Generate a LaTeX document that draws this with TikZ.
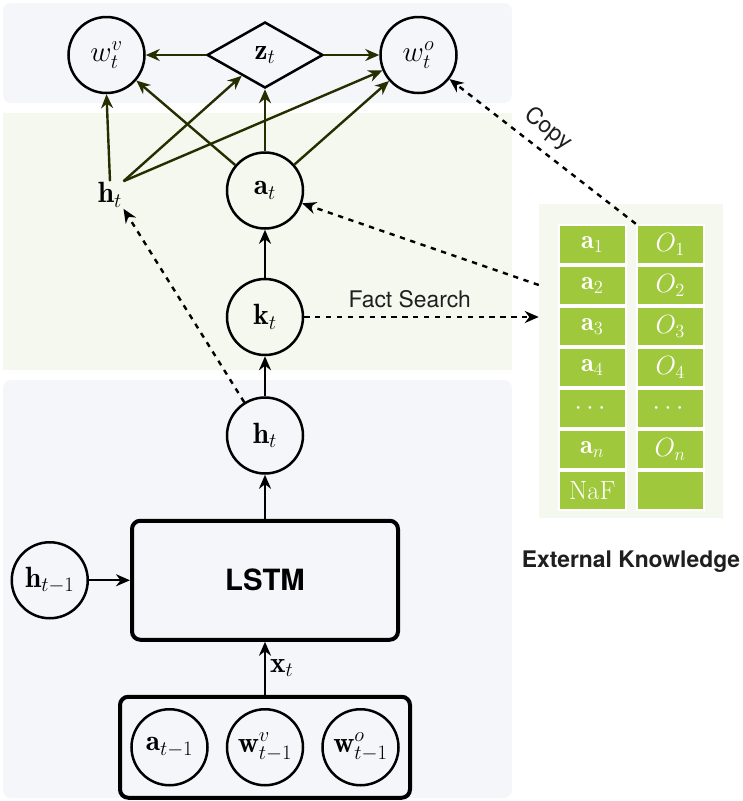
\RequirePackage{fix-cm}
\documentclass[tikz,border=0pt]{standalone}
\usepackage{amsmath}
\usepackage{fontspec}
\newfontfamily\heros{TeX Gyre Heros}
\usetikzlibrary{shapes.geometric, arrows.meta, positioning, calc}

\definecolor{panelgrey}{RGB}{245,246,249}
\definecolor{panelgreen}{RGB}{245,248,239}
\definecolor{cellgreen}{RGB}{160,200,60}
\definecolor{darkolive}{RGB}{38,46,0}

\begin{document}
\begin{tikzpicture}[
  circ/.style={circle, draw, line width=0.075cm, minimum size=2.28cm, inner sep=0pt, font=\fontsize{25}{29}\selectfont},
  diam/.style={diamond, draw, line width=0.075cm, minimum width=3.48cm, minimum height=1.98cm, inner sep=0pt, font=\fontsize{25}{29}\selectfont},
  lstmbox/.style={rectangle, draw, rounded corners=0.25cm, line width=0.12cm, minimum width=7.98cm, minimum height=3.57cm, font=\heros\bfseries\fontsize{25}{29}\selectfont},
  inbox/.style={rectangle, draw, rounded corners=0.25cm, line width=0.12cm, minimum width=8.7cm, minimum height=3.03cm},
  cell/.style={rectangle, fill=cellgreen, draw=white, line width=0.06cm, minimum width=2.01cm, minimum height=1.17cm, text=white, font=\fontsize{22.5}{26}\selectfont},
  arrow/.style={-{Stealth[length=4.2mm, width=3.6mm]}, line width=0.072cm},
  darrow/.style={arrow, dash pattern=on 4.5pt off 4.8pt},
  sans/.style={font=\heros\fontsize{19.5}{23}\selectfont, text=black!88},
]
\useasboundingbox (0,0) rectangle (22.29,-24.03);

% Panels
\fill[panelgrey, rounded corners=0.24cm] (0.09,-0.09) rectangle (15.36,-3.09);
\fill[panelgreen] (0.09,-3.39) rectangle (15.36,-11.1);
\fill[panelgrey, rounded corners=0.24cm] (0.09,-11.4) rectangle (15.36,-23.94);

% Output
\node[diam] (zt) at (7.95,-1.65) {$\mathbf{z}_t$};
\node[circ, left=1.8cm of zt] (wv) {$w_t^v$};
\node[circ, right=1.65cm of zt] (wo) {$w_t^o$};
\node[font=\fontsize{25}{29}\selectfont, inner sep=1pt] (ht) at (3.3,-5.85) {$\mathbf{h}_t$};

% Central column
\node[circ, below=1.86cm of zt] (at) {$\mathbf{a}_t$};
\node[circ, below=1.44cm of at] (kt) {$\mathbf{k}_t$};
\node[circ, below=1.2cm of kt] (hc) {$\mathbf{h}_t$};
\node[lstmbox, below=1.32cm of hc] (lstm) {LSTM};
\node[circ, left=1.23cm of lstm] (hprev) {$\mathbf{h}_{t-1}$};

% Input
\node[inbox, below=1.59cm of lstm] (inp) {};
\node[circ] (wvprev) at (inp) {$\mathbf{w}^v_{t-1}$};
\node[circ, left=0.51cm of wvprev] (aprev) {$\mathbf{a}_{t-1}$};
\node[circ, right=0.51cm of wvprev] (woprev) {$\mathbf{w}^o_{t-1}$};

% External knowledge
\node[fill=panelgreen, minimum width=5.52cm, minimum height=9.42cm] (kb) at (18.93,-10.83) {};
\node[cell, anchor=north west] (a1) at ([xshift=0.57cm, yshift=-0.6cm]kb.north west) {$\mathbf{a}_1$};
\node[cell, below=0cm of a1] (a2) {$\mathbf{a}_2$};
\node[cell, below=0cm of a2] (a3) {$\mathbf{a}_3$};
\node[cell, below=0cm of a3] (a4) {$\mathbf{a}_4$};
\node[cell, below=0cm of a4] (adots) {$\cdots$};
\node[cell, below=0cm of adots] (an) {$\mathbf{a}_n$};
\node[cell, below=0cm of an] (naf) {NaF};
\node[cell, right=0.27cm of a1] (o1) {$O_1$};
\node[cell, below=0cm of o1] (o2) {$O_2$};
\node[cell, below=0cm of o2] (o3) {$O_3$};
\node[cell, below=0cm of o3] (o4) {$O_4$};
\node[cell, below=0cm of o4] (odots) {$\cdots$};
\node[cell, below=0cm of odots] (on) {$O_n$};
\node[cell, below=0cm of on] (oempty) {};
\node[sans, font=\heros\bfseries\fontsize{19.5}{23}\selectfont, below=0.85cm of kb] (ekl) {External Knowledge};
\coordinate (kbin) at ([yshift=2.28cm]kb.west);

% Arrows to output
\draw[arrow, darkolive] (zt) -- (wv);
\draw[arrow, darkolive] (zt) -- (wo);
\draw[arrow, darkolive] (ht.north) -- (wv.south);
\draw[arrow, darkolive] (ht.north east) -- (zt);
\draw[arrow, darkolive] (ht.north east) -- (wo);
\draw[arrow, darkolive] (at) -- (wv);
\draw[arrow, darkolive] (at) -- (zt);
\draw[arrow, darkolive] (at) -- (wo);

% Column arrows
\draw[arrow] (kt) -- (at);
\draw[arrow] (hc) -- (kt);
\draw[arrow] (lstm) -- (hc);
\draw[arrow] (hprev) -- (lstm);
\draw[arrow] (inp) -- node[right, font=\fontsize{25}{29}\selectfont] (xt) {$\mathbf{x}_t$} (lstm);

% Dashed links
\draw[darrow] (hc) -- (ht.south east);
\draw[darrow] (kt) -- node[above=3pt, sans, pos=0.45] (fs) {Fact Search} (kt -| kb.west);
\draw[darrow] (kbin) -- (at);
\draw[darrow] (o1.north west) -- node[pos=0.54, sloped, above=4pt, sans] (cp) {Copy} (wo);

\end{tikzpicture}
\end{document}
